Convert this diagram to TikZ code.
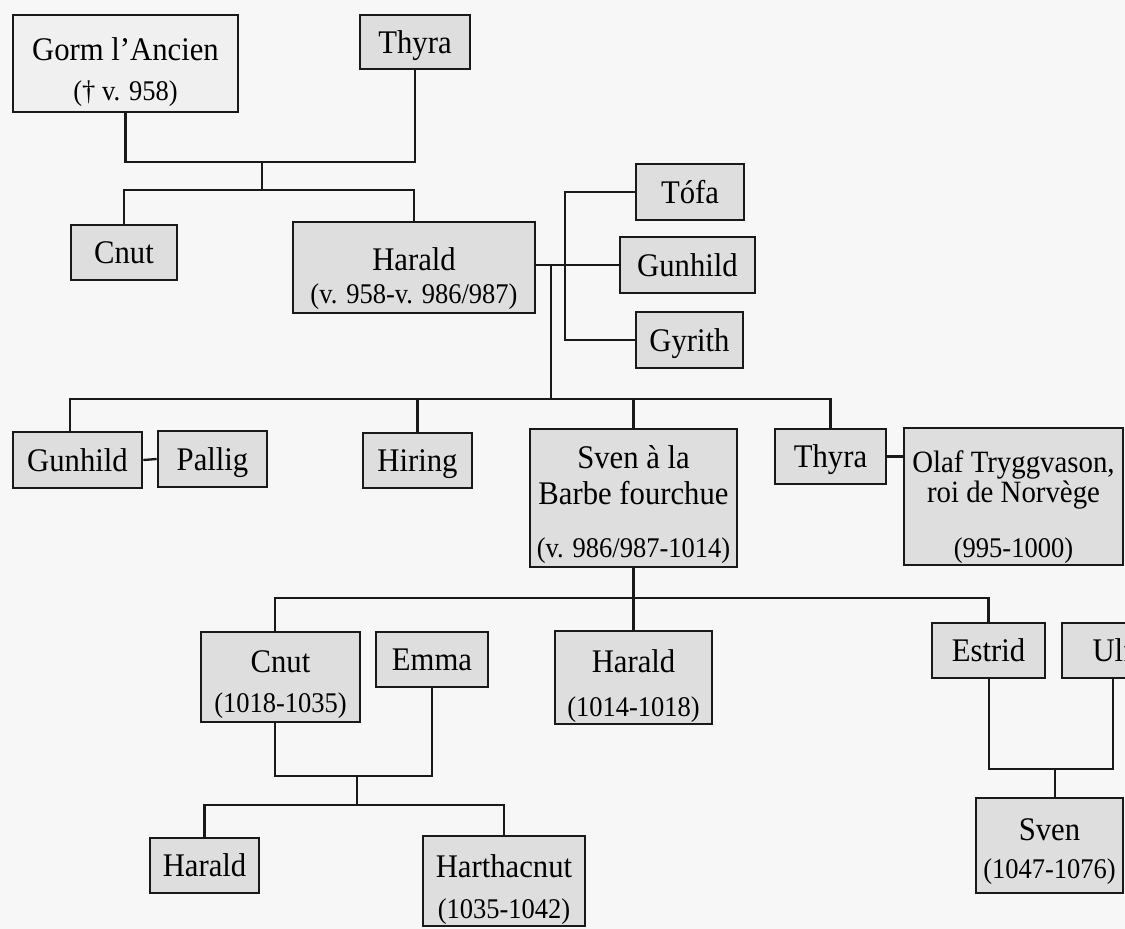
\documentclass[tikz,border=0pt]{standalone}
\usepackage{fontspec}
\setmainfont[FakeStretch=0.93]{Liberation Serif}
\newcommand{\dt}{\fontsize{28.5}{36}\selectfont}
\newcommand{\ol}{\fontsize{31}{36}\selectfont}
\newcommand{\fl}[1]{\rule{0pt}{#1pt}}
\newcommand{\ld}{\rule[-8pt]{0pt}{0pt}}
\begin{document}
\begin{tikzpicture}[x=1pt,y=-1pt,
  person/.style={draw=black!90, line width=2.6pt, fill=black!13, rectangle,
    inner sep=0pt, align=center, font=\fontsize{33}{36}\selectfont},
  single/.style={person, text height=22pt, text depth=0pt},
  link/.style={draw=black!90, line width=2.3pt}]
\useasboundingbox (0,0) rectangle (1125,929);
\fill[black!3] (0,0) rectangle (1125,929);
\clip (0,0) rectangle (1125,929);

% generation 1
\node[person, fill=black!6, minimum width=225pt, minimum height=97pt] (gorm) at (125.5,63.5) {\fl{41}Gorm l’Ancien\\[4pt]\dt († v. 958)\ld};
\node[single, minimum width=110pt, minimum height=54pt] (thyraA) at (415,42) {Thyra};
% generation 2
\node[single, minimum width=106pt, minimum height=55pt] (cnutA) at (124,252.5) {Cnut};
\node[person, minimum width=242pt, minimum height=91pt] (haraldA) at (414,267.5) {\fl{46}Harald\\[-3pt]\dt (v. 958-v. 986/987)\ld};
\node[single, minimum width=108pt, minimum height=56pt] (tofa) at (690,192) {Tófa};
\node[single, minimum width=135pt, minimum height=56pt] (gunhildA) at (687.5,265) {Gunhild};
\node[single, minimum width=107pt, minimum height=56pt] (gyrith) at (689.5,340) {Gyrith};
% generation 3
\node[single, minimum width=129pt, minimum height=56pt] (gunhildB) at (77.5,460) {Gunhild};
\node[single, minimum width=109pt, minimum height=56pt] (pallig) at (212.5,459) {Pallig};
\node[single, minimum width=109pt, minimum height=55pt] (hiring) at (417.5,460.5) {Hiring};
\node[person, minimum width=207pt, minimum height=138pt] (svenA) at (633.5,498) {\fl{37}Sven à la\\Barbe fourchue\\[17pt]\dt (v. 986/987-1014)\ld};
\node[single, minimum width=111pt, minimum height=55pt] (thyraB) at (830.5,456.5) {Thyra};
\node[person, minimum width=219pt, minimum height=137pt] (olaf) at (1013.5,496.5) {\ol\fl{44}Olaf Tryggvason,\\[-6pt]\ol roi de Norvège\\[19pt]\dt (995-1000)\ld};
% generation 4
\node[person, minimum width=159pt, minimum height=90pt] (cnutB) at (280.5,677) {\fl{38}Cnut\\[4pt]\dt (1018-1035)\ld};
\node[single, minimum width=112pt, minimum height=55pt] (emma) at (432,659.5) {Emma};
\node[person, minimum width=157pt, minimum height=91pt] (haraldB) at (633.5,677.5) {\fl{41}Harald\\[8pt]\dt (1014-1018)\ld};
\node[single, minimum width=113pt, minimum height=55pt] (estrid) at (988.5,650.5) {Estrid};
\node[single, minimum width=102pt, minimum height=55pt] (ulf) at (1113,650.5) {Ulf};
% generation 5
\node[single, minimum width=109pt, minimum height=55pt] (haraldC) at (204.5,865.5) {Harald};
\node[person, minimum width=162pt, minimum height=88pt] (harthacnut) at (504,881) {\fl{41}Harthacnut\\[5pt]\dt (1035-1042)\ld};
\node[person, minimum width=147pt, minimum height=95pt] (svenB) at (1049.5,845.5) {\fl{35}Sven\\[2pt]\dt (1047-1076)\ld};

% junction coordinates
\coordinate (gt) at (262,162);
\coordinate (gtb) at (262,190);
\coordinate (tg) at (565,266);
\coordinate (hk) at (551,266);
\coordinate (hb) at (551,399);
\coordinate (gB) at (70,432);
\coordinate (sb) at (634,598);
\coordinate (c2t) at (275,632);
\coordinate (c2s) at (275,722);
\coordinate (ce) at (357,776);
\coordinate (ceb) at (357,805);
\coordinate (es) at (989,678);
\coordinate (eu) at (1055,769);

% connectors
\draw[link] (gorm.south) |- (thyraA.south |- gt) -- (thyraA.south);
\draw[link] (gt) -- (gtb);
\draw[link] (cnutA.north) |- (haraldA.north |- gtb) -- (haraldA.north);
\draw[link] (haraldA.east |- gunhildA.west) -- (gunhildA.west);
\draw[link] (tofa.west) -| (tg) |- (gyrith.west);
\draw[link] (hk) -- (hb);
\draw[link] (gB) |- (thyraB.north |- hb) -- (thyraB.north);
\draw[link] (hiring.north) -- (hiring.north |- hb);
\draw[link] (svenA.north) -- (svenA.north |- hb);
\draw[link] (gunhildB.east) -- (pallig.west);
\draw[link] (thyraB.east) -- (olaf.west |- thyraB.east);
\draw[link] (svenA.south) -- (svenA.south |- sb);
\draw[link] (c2t) |- (estrid.north |- sb) -- (estrid.north);
\draw[link] (haraldB.north) -- (haraldB.north |- sb);
\draw[link] (c2s) |- (emma.south |- ce) -- (emma.south);
\draw[link] (ce) -- (ceb);
\draw[link] (haraldC.north) |- (harthacnut.north |- ceb) -- (harthacnut.north);
\draw[link] (es) |- (ulf.south |- eu) -- (ulf.south);
\draw[link] (eu) -- (eu |- svenB.north);
\end{tikzpicture}
\end{document}
